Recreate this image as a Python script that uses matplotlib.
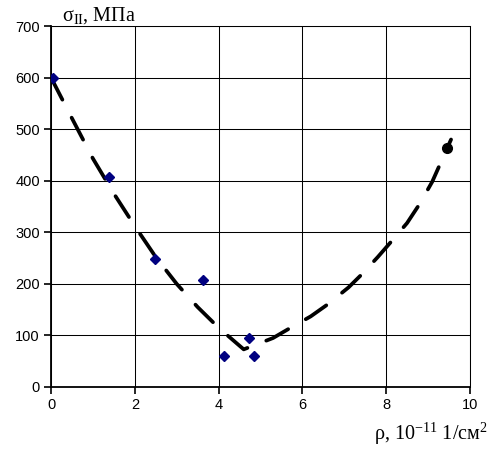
import matplotlib
matplotlib.use('Agg')
import matplotlib.pyplot as plt

# measured points (rho, sigma)
rho_pts = [0.05, 1.38, 2.48, 3.63, 4.14, 4.73, 4.85]
sigma_pts = [600, 408, 249, 207, 61, 96, 61]

# separate point on the right
rho_extra = [9.45]
sigma_extra = [464]

# dashed fit curve
rho_fit = [0.0, 0.5, 1.0, 1.5, 2.0, 2.5, 3.0, 3.5, 4.0, 4.6,
           5.3, 5.7, 6.2, 6.6, 7.1, 7.4, 7.8, 8.1, 8.5, 8.8, 9.1, 9.55]
sigma_fit = [600, 521, 443, 375, 312, 252, 200, 155, 115, 73,
             95, 114, 137, 160, 193, 217, 252, 280, 318, 355, 398, 480]

x_ticks = [0, 2, 4, 6, 8, 10]
y_ticks = [0, 100, 200, 300, 400, 500, 600, 700]

plt.rcParams['mathtext.fontset'] = 'custom'
plt.rcParams['mathtext.rm'] = 'Liberation Serif'
plt.rcParams['mathtext.it'] = 'Liberation Serif:italic'

fig = plt.figure(figsize=(4.91, 4.5), dpi=100)
ax = fig.add_axes([0.104, 0.14, 0.853, 0.802])

ax.plot(rho_fit, sigma_fit, color='black', lw=2.7, dashes=(6.6, 5.4),
        dash_capstyle='round', solid_capstyle='round', zorder=3)
ax.plot(rho_pts, sigma_pts, 'D', color='#000080', ms=5.5, zorder=4)
ax.plot(rho_extra, sigma_extra, 'o', color='black', ms=7, zorder=4)

ax.set_xlim(0, 10)
ax.set_ylim(0, 700)
ax.set_xticks(x_ticks)
ax.set_yticks(y_ticks)
ax.grid(True, color='black', lw=0.75)
ax.set_axisbelow(True)

for s in ['top', 'right']:
    ax.spines[s].set_linewidth(0.75)
for s in ['left', 'bottom']:
    ax.spines[s].set_linewidth(1.3)

ax.tick_params(direction='out', length=5, width=1.2, labelsize=10.5, pad=3)
for lab in ax.get_xticklabels() + ax.get_yticklabels():
    lab.set_family('Liberation Sans')

fig.text(0.126, 0.954, r'σ$_{\rm II}$, МПа', family='Liberation Serif',
         fontsize=14.5, ha='left', va='baseline')
fig.text(0.994, 0.022, r'ρ, 10$^{-11}$ 1/см$^{2}$', family='Liberation Serif',
         fontsize=14.5, ha='right', va='baseline')

fig.savefig('out.png', dpi=100)
